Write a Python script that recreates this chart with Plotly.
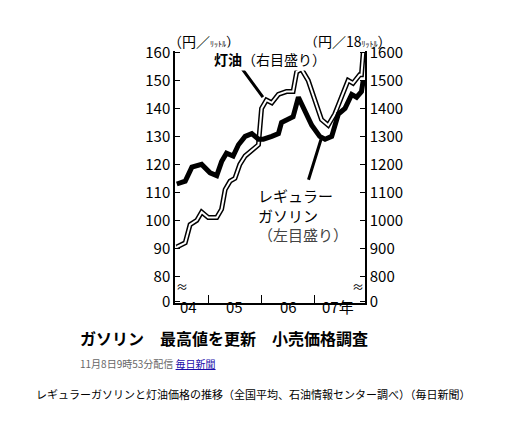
import plotly.graph_objects as go

# months since 2004-01 (0 = Jan 2004)
gas_x = [4.9,6.8,8.3,10.5,12.4,13.9,15.0,16.1,17.6,18.8,20.3,21.8,23.3,24.4,26.3,27.8,28.5,29.6,31.1,32.3,33.8,35.3,37.1,38.3,39.8,41.3,42.8,44.3,45.4,46.5,46.9]
gas_y = [113,114,119,120,117,116,121,124,123,127,130,131,129,129,130,131,135,136,137,144,139,134,130,129,130,138,140,145,144,146,150]
ker_x = [4.9,6.8,7.9,9.4,10.5,12.0,13.9,15.0,15.8,16.9,18.0,19.1,20.3,21.8,23.3,24.0,25.1,26.3,27.8,29.6,31.1,31.9,33.0,34.5,36.0,37.5,39.0,40.5,42.0,43.5,44.6,46.1,46.5,46.9]
ker_y = [905,920,985,1000,1030,1010,1010,1040,1110,1140,1150,1200,1230,1250,1270,1400,1430,1420,1450,1460,1460,1530,1540,1500,1430,1360,1340,1380,1440,1500,1490,1520,1520,1600]
left_ticks = [71,80,90,100,110,120,130,140,150,160]
left_text = ["0","80","90","100","110","120","130","140","150","160"]
right_text = ["0","800","900","1000","1100","1200","1300","1400","1500","1600"]
year_pos = [7.5,18,30,41.3]
year_text = ["04","05","06","07年"]

F = "Noto Sans CJK JP"
fig = go.Figure()
fig.add_trace(go.Scatter(x=ker_x, y=[v/10 for v in ker_y], mode="lines", line=dict(color="black", width=5), hoverinfo="skip"))
fig.add_trace(go.Scatter(x=ker_x, y=[v/10 for v in ker_y], mode="lines", line=dict(color="white", width=2), hoverinfo="skip"))
fig.add_trace(go.Scatter(x=gas_x, y=gas_y, mode="lines", line=dict(color="black", width=5), hoverinfo="skip"))
fig.add_trace(go.Scatter(x=[None], y=[None], yaxis="y2"))

ax = dict(showgrid=False, zeroline=False, showline=True, linecolor="black", linewidth=1.5)
fig.update_layout(
    width=508, height=422, showlegend=False, plot_bgcolor="white", paper_bgcolor="white",
    margin=dict(l=167, r=151, t=43, b=127),
    font=dict(family=F, color="black"),
    xaxis=dict(range=[4.5, 47.3], tickvals=[12,24,36], ticktext=["","",""], ticks="inside", ticklen=8, tickcolor="black", **ax),
    yaxis=dict(range=[70.5, 160.5], tickvals=left_ticks, ticktext=left_text, ticks="inside", ticklen=5, tickcolor="black", tickfont=dict(size=15), **ax),
    yaxis2=dict(range=[705, 1605], tickvals=[v*10 for v in left_ticks], ticktext=right_text, overlaying="y", side="right", ticks="inside", ticklen=5, tickcolor="black", tickfont=dict(size=15), **ax),
)
for p, t in zip(year_pos, year_text):
    fig.add_annotation(x=p, y=0, yref="paper", yshift=-16, text=t, showarrow=False, font=dict(size=15))
fig.add_annotation(x=0, xref="paper", y=76.5, text="≈", showarrow=False, font=dict(size=12), bgcolor="white", borderpad=0)
fig.add_annotation(x=1, xref="paper", y=76.5, text="≈", showarrow=False, font=dict(size=12), bgcolor="white", borderpad=0)
fig.add_annotation(x=-0.05, xref="paper", y=1, yref="paper", yshift=22, text="（円／<span style='font-size:8px'>ﾘｯﾄﾙ</span>）", showarrow=False, font=dict(size=14))
fig.add_annotation(x=1.15, xref="paper", y=1, yref="paper", yshift=22, text="（円／18<span style='font-size:8px'>ﾘｯﾄﾙ</span>）", showarrow=False, font=dict(size=14))
fig.add_annotation(x=24.3, y=144, ax=-22, ay=-30, text="", showarrow=True, arrowhead=0, arrowwidth=3, arrowcolor="black")
fig.add_annotation(x=25.9, y=157.5, text="<b>灯油</b>（右目盛り）", showarrow=False, font=dict(size=14), bgcolor="white")
fig.add_annotation(x=37.4, y=129, ax=-13, ay=42, text="", showarrow=True, arrowhead=0, arrowwidth=3, arrowcolor="black")
fig.add_annotation(x=33.4, y=102, text="レギュラー<br>ガソリン<br><span style='color:#444'>（左目盛り）</span>", showarrow=False, font=dict(size=15), align="left")
fig.add_annotation(x=-0.51, xref="paper", xanchor="left", y=-0.14, yref="paper", yanchor="middle", text="<b>ガソリン　最高値を更新　小売価格調査</b>", showarrow=False, font=dict(size=16))
fig.add_annotation(x=-0.51, xref="paper", xanchor="left", y=-0.24, yref="paper", yanchor="middle", text="<span style='color:#666'>11月8日9時53分配信</span> <span style='color:#1a0dab'><u>毎日新聞</u></span>", showarrow=False, font=dict(size=10))
fig.add_annotation(x=-0.74, xref="paper", xanchor="left", y=-0.36, yref="paper", yanchor="middle", text="レギュラーガソリンと灯油価格の推移（全国平均、石油情報センター調べ）（毎日新聞）", showarrow=False, font=dict(size=11))
fig.write_html("out.html")
